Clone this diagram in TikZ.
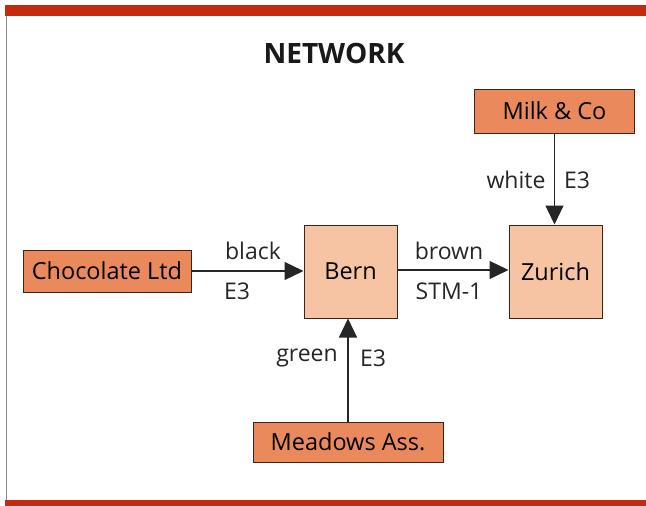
\documentclass[tikz,border=0pt]{standalone}
\usepackage{fontspec}
\setmainfont{Open Sans}
\usetikzlibrary{arrows.meta}
\definecolor{band}{HTML}{C42A0C}
\definecolor{darkbox}{HTML}{EA8A5C}
\definecolor{lightbox}{HTML}{F6C4A2}
\definecolor{edge}{HTML}{3C2418}
\tikzset{
  srcbox/.style={draw=edge, line width=1pt, fill=darkbox, inner sep=0pt, font=\fontsize{23.5}{27}\selectfont},
  citybox/.style={draw=edge, line width=1pt, fill=lightbox, inner sep=0pt, minimum width=93pt, minimum height=93pt, font=\fontsize{23.5}{27}\selectfont},
  link/.style={draw=black!85, line width=1.2pt, -{Triangle[length=19pt,width=18pt]}},
  lbl/.style={font=\fontsize{23}{27}\selectfont, text=black!85, inner sep=0pt}
}
\begin{document}
\begin{tikzpicture}[x=1pt,y=-1pt]
\useasboundingbox (0,0) rectangle (646,506);
\fill[white] (0,0) rectangle (646,506);
\fill[band] (5,5) rectangle (646,16);
\fill[band] (5,500) rectangle (646,506);
\draw[black!45, line width=1pt] (6,16) -- (6,500);
\node[font=\bfseries\fontsize{28}{32}\selectfont, text=black!90] (title) at (334,53) {NETWORK};
\node[srcbox, minimum width=168pt, minimum height=42pt] (choc) at (107,271) {Chocolate Ltd};
\node[citybox] (bern) at (350.5,271.5) {Bern};
\node[citybox] (zurich) at (555.5,271.5) {Zurich};
\node[srcbox, minimum width=160pt, minimum height=44pt] (milk) at (554.5,111) {Milk \& Co};
\node[srcbox, minimum width=190pt, minimum height=40pt] (mead) at (348,442) {Meadows Ass.};
\draw[link] (choc.east) -- (choc.east -| bern.west);
\draw[link] (bern.east |- 0,270) -- (zurich.west |- 0,270);
\draw[link] (milk.south) -- (milk.south |- zurich.north);
\draw[link] (mead.north) -- (mead.north |- bern.south);
\node[lbl] (l1) at (253,251) {black};
\node[lbl] (l2) at (237,291) {E3};
\node[lbl] (l3) at (449,251) {brown};
\node[lbl] (l4) at (449,291) {STM-1};
\node[lbl] (l5) at (516,180) {white};
\node[lbl] (l6) at (577,180) {E3};
\node[lbl] (l7) at (307,358) {green};
\node[lbl] (l8) at (373,358) {E3};
\end{tikzpicture}
\end{document}
